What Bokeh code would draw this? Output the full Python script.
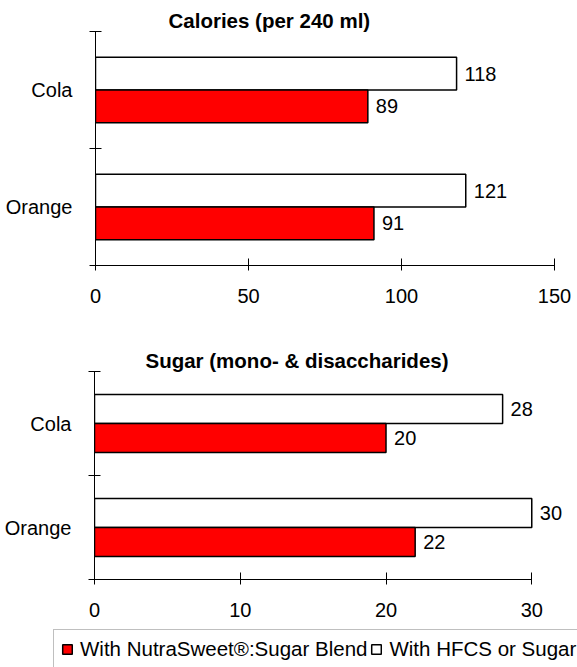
from bokeh.plotting import figure
from bokeh.models import FixedTicker, Range1d, Legend, LegendItem, ColumnDataSource, Plot
from bokeh.layouts import column
from bokeh.embed import file_html
from bokeh.resources import INLINE
from bokeh.core.properties import value

# ---- data ----
categories = ["Orange", "Cola"]          # bottom to top
cal_blend = [91, 89]
cal_hfcs = [121, 118]
sug_blend = [22, 20]
sug_hfcs = [30, 28]
cal_ticks = [0, 50, 100, 150]
sug_ticks = [0, 10, 20, 30]
titles = ["Calories (per 240 ml)", "Sugar (mono- & disaccharides)"]
legend_labels = ["With NutraSweet®:Sugar Blend", "With HFCS or Sugar"]

FONT = "Liberation Sans"
RED = "#FF0000"
BAR_H = 0.28
W = 577
ALIGN_OFF = "frame_align" in Plot.properties()


def no_align(p):
    if ALIGN_OFF:
        p.frame_align = False


def make_chart(title, blend, hfcs, ticks, x_end, width, height,
               b_left, b_right, b_top, b_bottom, title_offset):
    p = figure(width=width, height=height, output_backend="svg",
               toolbar_location=None,
               x_range=Range1d(0, x_end), y_range=Range1d(0, len(categories)),
               min_border_left=b_left, min_border_right=b_right,
               min_border_top=b_top, min_border_bottom=b_bottom)
    no_align(p)
    p.title.text = title
    p.title.text_font = FONT
    p.title.text_font_size = "20.5px"
    p.title.text_font_style = "bold"
    p.title.text_color = "black"
    p.title.align = "left"
    p.title.offset = title_offset
    p.title.standoff = 0
    p.outline_line_color = None
    p.xgrid.visible = False
    p.ygrid.visible = False
    p.background_fill_color = "white"
    p.border_fill_color = "white"

    pos = [i + 0.5 for i in range(len(categories))]
    src_w = ColumnDataSource(dict(y=[c + BAR_H / 2 for c in pos], v=hfcs,
                                  t=[str(v) for v in hfcs]))
    src_r = ColumnDataSource(dict(y=[c - BAR_H / 2 for c in pos], v=blend,
                                  t=[str(v) for v in blend]))
    p.hbar(y="y", left=0, right="v", height=BAR_H, source=src_w,
           fill_color="white", line_color="black", line_width=1.5)
    p.hbar(y="y", left=0, right="v", height=BAR_H, source=src_r,
           fill_color=RED, line_color="black", line_width=1.5)
    for s in (src_w, src_r):
        p.text(x="v", y="y", text="t", source=s, x_offset=8,
               text_baseline="middle", text_align="left",
               text_font=value(FONT), text_font_size="20px", text_color="black")

    # x axis
    xa = p.xaxis[0]
    xa.ticker = FixedTicker(ticks=ticks, minor_ticks=[])
    xa.bounds = (ticks[0], ticks[-1])
    xa.major_tick_in = 7
    xa.major_tick_out = 5
    xa.major_label_standoff = 18
    xa.major_label_text_font = FONT
    xa.major_label_text_font_size = "20px"
    xa.major_label_text_color = "black"
    xa.axis_line_color = "black"
    xa.major_tick_line_color = "black"

    # y axis
    ya = p.yaxis[0]
    ya.ticker = FixedTicker(ticks=pos, minor_ticks=list(range(len(categories) + 1)))
    ya.major_label_overrides = {c: n for c, n in zip(pos, categories)}
    ya.major_tick_line_color = None
    ya.major_tick_in = 0
    ya.major_tick_out = 0
    ya.minor_tick_in = 6
    ya.minor_tick_out = 6
    ya.minor_tick_line_color = "black"
    ya.major_label_standoff = 17
    ya.major_label_text_font = FONT
    ya.major_label_text_font_size = "20px"
    ya.major_label_text_color = "black"
    ya.axis_line_color = "black"
    return p, src_r, src_w


p1, _, _ = make_chart(titles[0], cal_blend, cal_hfcs, cal_ticks, 150,
                      W, 340, 95, 23, 31, 75, 73)
p2, src_r2, src_w2 = make_chart(titles[1], sug_blend, sug_hfcs, sug_ticks,
                                33 if ALIGN_OFF else 31.5,
                                W, 287, 94, 2, 31, 48, 51)

# legend strip: its own figure, whose swatches come from hidden copies of the
# sugar bars
p3 = figure(width=W, height=40, output_backend="svg", toolbar_location=None,
            x_range=Range1d(0, 1), y_range=Range1d(0, 1),
            x_axis_location=None, y_axis_location=None, min_border=0,
            min_border_left=0, min_border_right=0, min_border_top=0,
            min_border_bottom=0)
no_align(p3)
p3.outline_line_color = None
p3.xgrid.visible = False
p3.ygrid.visible = False
p3.border_fill_color = "white"
lr = p3.hbar(y="y", left=0, right="v", height=BAR_H, source=src_r2,
             fill_color=RED, line_color="black", line_width=1.5, visible=False)
lw = p3.hbar(y="y", left=0, right="v", height=BAR_H, source=src_w2,
             fill_color="white", line_color="black", line_width=1.5, visible=False)

legend = Legend(items=[LegendItem(label=legend_labels[0], renderers=[lr]),
                       LegendItem(label=legend_labels[1], renderers=[lw])],
                location=(53, -2), orientation="horizontal",
                glyph_width=12, glyph_height=12, label_standoff=7, spacing=3,
                padding=7, margin=0,
                label_text_font=FONT, label_text_font_size="20.5px",
                label_text_color="black",
                border_line_color="#808080", border_line_width=1,
                background_fill_color="white", background_fill_alpha=1,
                inactive_fill_alpha=0)
p3.add_layout(legend, "center")

layout = column(p1, p2, p3, spacing=0)
open("out.html", "w").write(file_html(layout, INLINE))
